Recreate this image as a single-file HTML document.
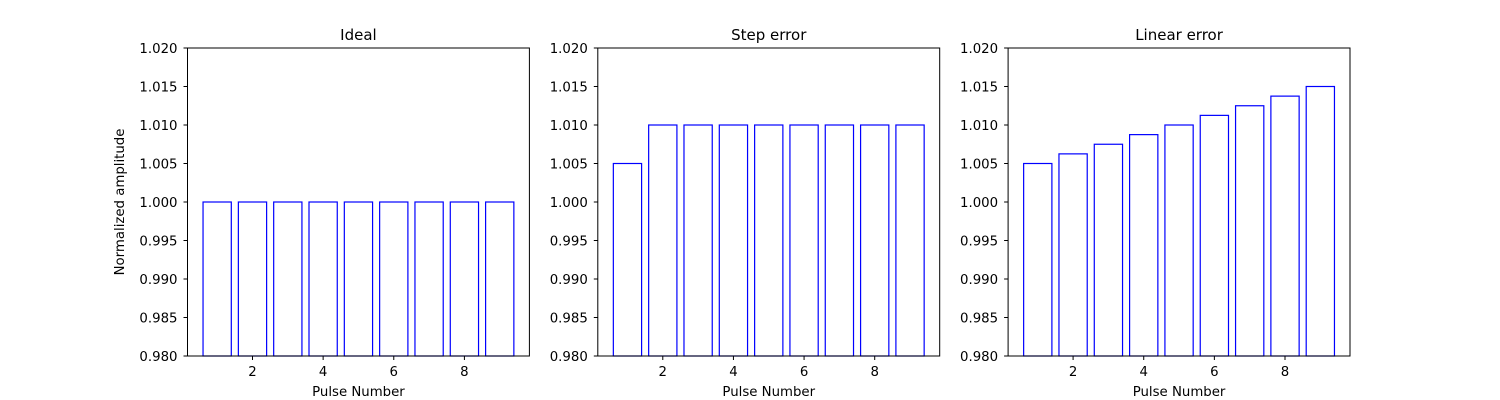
<!DOCTYPE html>
<html><head><meta charset="utf-8"><style>body{margin:0;background:#fff}svg{display:block}text{font-family:"DejaVu Sans","Liberation Sans",sans-serif;fill:#000}</style></head>
<body>
<svg id="chart" width="1500" height="400" xmlns="http://www.w3.org/2000/svg"></svg>
<script>
const pulses = [1,2,3,4,5,6,7,8,9];
const idealValues = [1,1,1,1,1,1,1,1,1];
const stepValues = [1.005,1.01,1.01,1.01,1.01,1.01,1.01,1.01,1.01];
const linearValues = [1.005,1.00625,1.0075,1.00875,1.01,1.01125,1.0125,1.01375,1.015];
const panelTitles = ["Ideal","Step error","Linear error"];
const yTicks = [0.980,0.985,0.990,0.995,1.000,1.005,1.010,1.015,1.020];
const xTicks = [2,4,6,8];
const series = [idealValues, stepValues, linearValues];
const NS = "http://www.w3.org/2000/svg";
const svgRoot = document.getElementById('chart');
function mk(tag, attrs, parent){const e=document.createElementNS(NS,tag);for(const k in attrs)e.setAttribute(k,attrs[k]);parent.appendChild(e);return e;}
const plotW = 341.9, plotTop = 48, plotBottom = 356;
const lefts = [187.5, 597.8, 1008.1];
const xmin = 0.16, xmax = 9.84, ymin = 0.98, ymax = 1.02;
series.forEach((vals, p) => {
  const L = lefts[p];
  const xs = v => L + (v - xmin) / (xmax - xmin) * plotW;
  const ys = v => plotBottom - (v - ymin) / (ymax - ymin) * (plotBottom - plotTop);
  const g = mk('g', {}, svgRoot);
  
  
  vals.forEach((v, i) => {
    const x0 = xs(pulses[i] - 0.4), x1 = xs(pulses[i] + 0.4);
    const r = mk('rect', {x: x0, y: ys(v), width: x1 - x0, height: plotBottom - ys(v), fill: 'none', stroke: '#0000ff', 'stroke-width': 1.2}, g);
    
    
  });
  const frame = mk('rect', {x: L, y: plotTop, width: plotW, height: plotBottom - plotTop, fill: 'none', stroke: '#000', 'stroke-width': 1}, g);
  
  
  yTicks.forEach(t => {
    const y = ys(t);
    mk('line', {x1: L - 4, x2: L, y1: y, y2: y, stroke: '#000'}, g);
    const tx = mk('text', {x: L - 10, y: y + 5, 'text-anchor': 'end', 'font-size': 13.3}, g);
    tx.textContent = t.toFixed(3);
    
    
  });
  xTicks.forEach(t => {
    const x = xs(t);
    mk('line', {x1: x, x2: x, y1: plotBottom, y2: plotBottom + 4, stroke: '#000'}, g);
    const tx = mk('text', {x: x, y: plotBottom + 20, 'text-anchor': 'middle', 'font-size': 13.3}, g);
    tx.textContent = t;
    
    
  });
  const ti = mk('text', {x: L + plotW / 2, y: plotTop - 8, 'text-anchor': 'middle', 'font-size': 15}, g);
  ti.textContent = panelTitles[p];
  
  
  const xl = mk('text', {x: L + plotW / 2, y: 396, 'text-anchor': 'middle', 'font-size': 13.3}, g);
  xl.textContent = 'Pulse Number';
  
  
});
const yl = mk('text', {x: 0, y: 0, 'text-anchor': 'middle', 'font-size': 13.3, transform: 'translate(129,202) rotate(-90)'}, svgRoot);
yl.setAttribute('transform', 'translate(129,202) rotate(-90)');
yl.setAttribute('x', 0);
yl.setAttribute('y', -5);
yl.textContent = 'Normalized amplitude';


</script>
</body></html>
